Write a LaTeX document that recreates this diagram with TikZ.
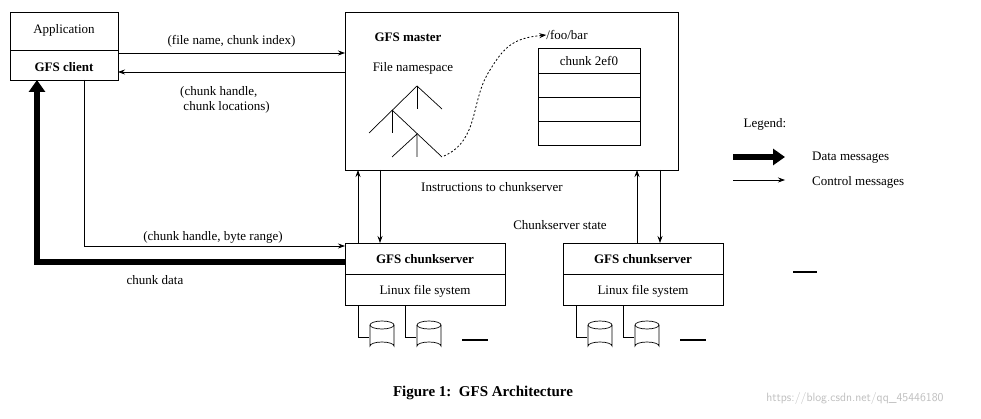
\documentclass[tikz,border=0pt]{standalone}
\usepackage{fontspec}
\setmainfont{Liberation Serif}
\usetikzlibrary{arrows.meta}
\begin{document}
\begin{tikzpicture}[x=1pt,y=-1pt,
  txt/.style={font=\fontsize{13}{15}\selectfont, inner sep=0pt},
  bx/.style={draw, line width=0.8pt},
  ctl/.style={-{Stealth[length=7pt,width=5pt]}, line width=0.7pt},
  dat/.style={-{Triangle[length=12pt,width=16pt]}, line width=6pt},
  ln/.style={line width=0.7pt}]
\useasboundingbox (0,0) rectangle (981,419);
\fill[white] (0,0) rectangle (981,419);
% client
\node[bx, minimum width=108pt, minimum height=68pt, anchor=north west, inner sep=0pt] (cl) at (10,12) {};
\draw[ln] (10,50) -- (118,50);
\node[txt] (app) at (64,30) {Application};
\node[txt, font=\fontsize{13}{15}\selectfont\bfseries] (gc) at (64,67) {GFS client};
% master
\node[bx, minimum width=333pt, minimum height=158pt, anchor=north west, inner sep=0pt] (ms) at (345,12) {};
\node[txt, font=\fontsize{13}{15}\selectfont\bfseries] (mt) at (408,37) {GFS master};
\node[txt] (fn) at (413,68) {File namespace};
\node[txt] (fb) at (567,35) {/foo/bar};
\node[bx, minimum width=102pt, minimum height=97pt, anchor=north west, inner sep=0pt] (tb) at (538,48) {};
\draw[ln] (538,73) -- (640,73) (538,97) -- (640,97) (538,121) -- (640,121);
\node[txt] (c2) at (589,61) {chunk 2ef0};
% tree
\draw[ln] (369,133) -- (417,86) -- (442,109);
\draw[ln] (417,86) -- (417,109);
\draw[ln] (392,110) -- (442,157);
\draw[ln] (392,110) -- (392,133);
\draw[ln] (392,157) -- (417,134) -- (417,157);
\coordinate (tl) at (444,156);
\draw[dashed, dash pattern=on 2pt off 2pt, line width=0.8pt, -{Stealth[length=7pt,width=5pt]}] (tl) .. controls (480,140) and (470,100) .. (490,70) .. controls (505,45) and (515,38) .. (fb.west);
% chunkservers
\foreach \n/\x in {a/345, b/563}{
  \node[bx, minimum width=160pt, minimum height=62pt, anchor=north west, inner sep=0pt] (cs\n) at (\x,243) {};
  \draw[ln] (\x,274) -- (\x+160,274);
  \node[txt, font=\fontsize{13}{15}\selectfont\bfseries] (h\n) at (\x+80,259) {GFS chunkserver};
  \node[txt] (l\n) at (\x+80,291) {Linux file system};
  \foreach \k/\dx in {1/13, 2/60}{
    \draw[ln] (\x+\dx,305) -- (\x+\dx,337) -- (\x+\dx+11,337);
    \begin{scope}[shift={(\x+\dx+24,325)}]
      \draw[ln] (-12,0) -- (-12,21) arc[start angle=180,end angle=360,x radius=12,y radius=4] -- (12,0);
      \draw[ln] (0,0) ellipse[x radius=12, y radius=4];
    \end{scope}
  }
  \node[txt] (d\n) at (\x+130,340) {\rule{26pt}{1.2pt}};
}
\node[txt] (dd) at (805,272) {\rule{24pt}{1.2pt}};
% client <-> master
\draw[ctl] (118,53) -- node[txt, above=5pt] (q1) {(file name, chunk index)} (345,53);
\draw[ctl] (345,72) -- (118,72);
\node[txt, align=left] (q2) at (225,100) {(chunk handle,\\\ chunk locations)};
% client -> chunkserver
\draw[ctl] (84,80) |- (345,246);
\node[txt] (q3) at (213,237) {(chunk handle, byte range)};
\draw[dat] (345,262) -| (37,80);
\node[txt] (q4) at (155,280) {chunk data};
% master <-> chunkservers
\draw[ctl] (358,243) -- (358,170);
\draw[ctl] (380,170) -- (380,243);
\node[txt] (q5) at (492,187) {Instructions to chunkserver};
\draw[ctl] (637,243) -- (637,170);
\draw[ctl] (660,170) -- (660,243);
\node[txt] (q6) at (560,225) {Chunkserver state};
% legend
\node[txt] (lg) at (765,124) {Legend:};
\coordinate (a1) at (733,157); \coordinate (a2) at (785,157);
\draw[dat] (a1) -- (a2);
\node[txt, anchor=west] (dm) at (812,158) {Data messages};
\coordinate (b1) at (733,180); \coordinate (b2) at (785,180);
\draw[ctl] (b1) -- (b2);
\node[txt, anchor=west] (cm) at (812,182) {Control messages};
% caption
\node[txt, font=\fontsize{15}{18}\selectfont\bfseries] (cap) at (483,393) {Figure 1:\ \ GFS Architecture};
\node[txt, text=black!25, font=\fontsize{12}{14}\selectfont\sffamily] (wm) at (855,398) {https://blog.csdn.net/qq\_45446180};
\end{tikzpicture}
\end{document}
